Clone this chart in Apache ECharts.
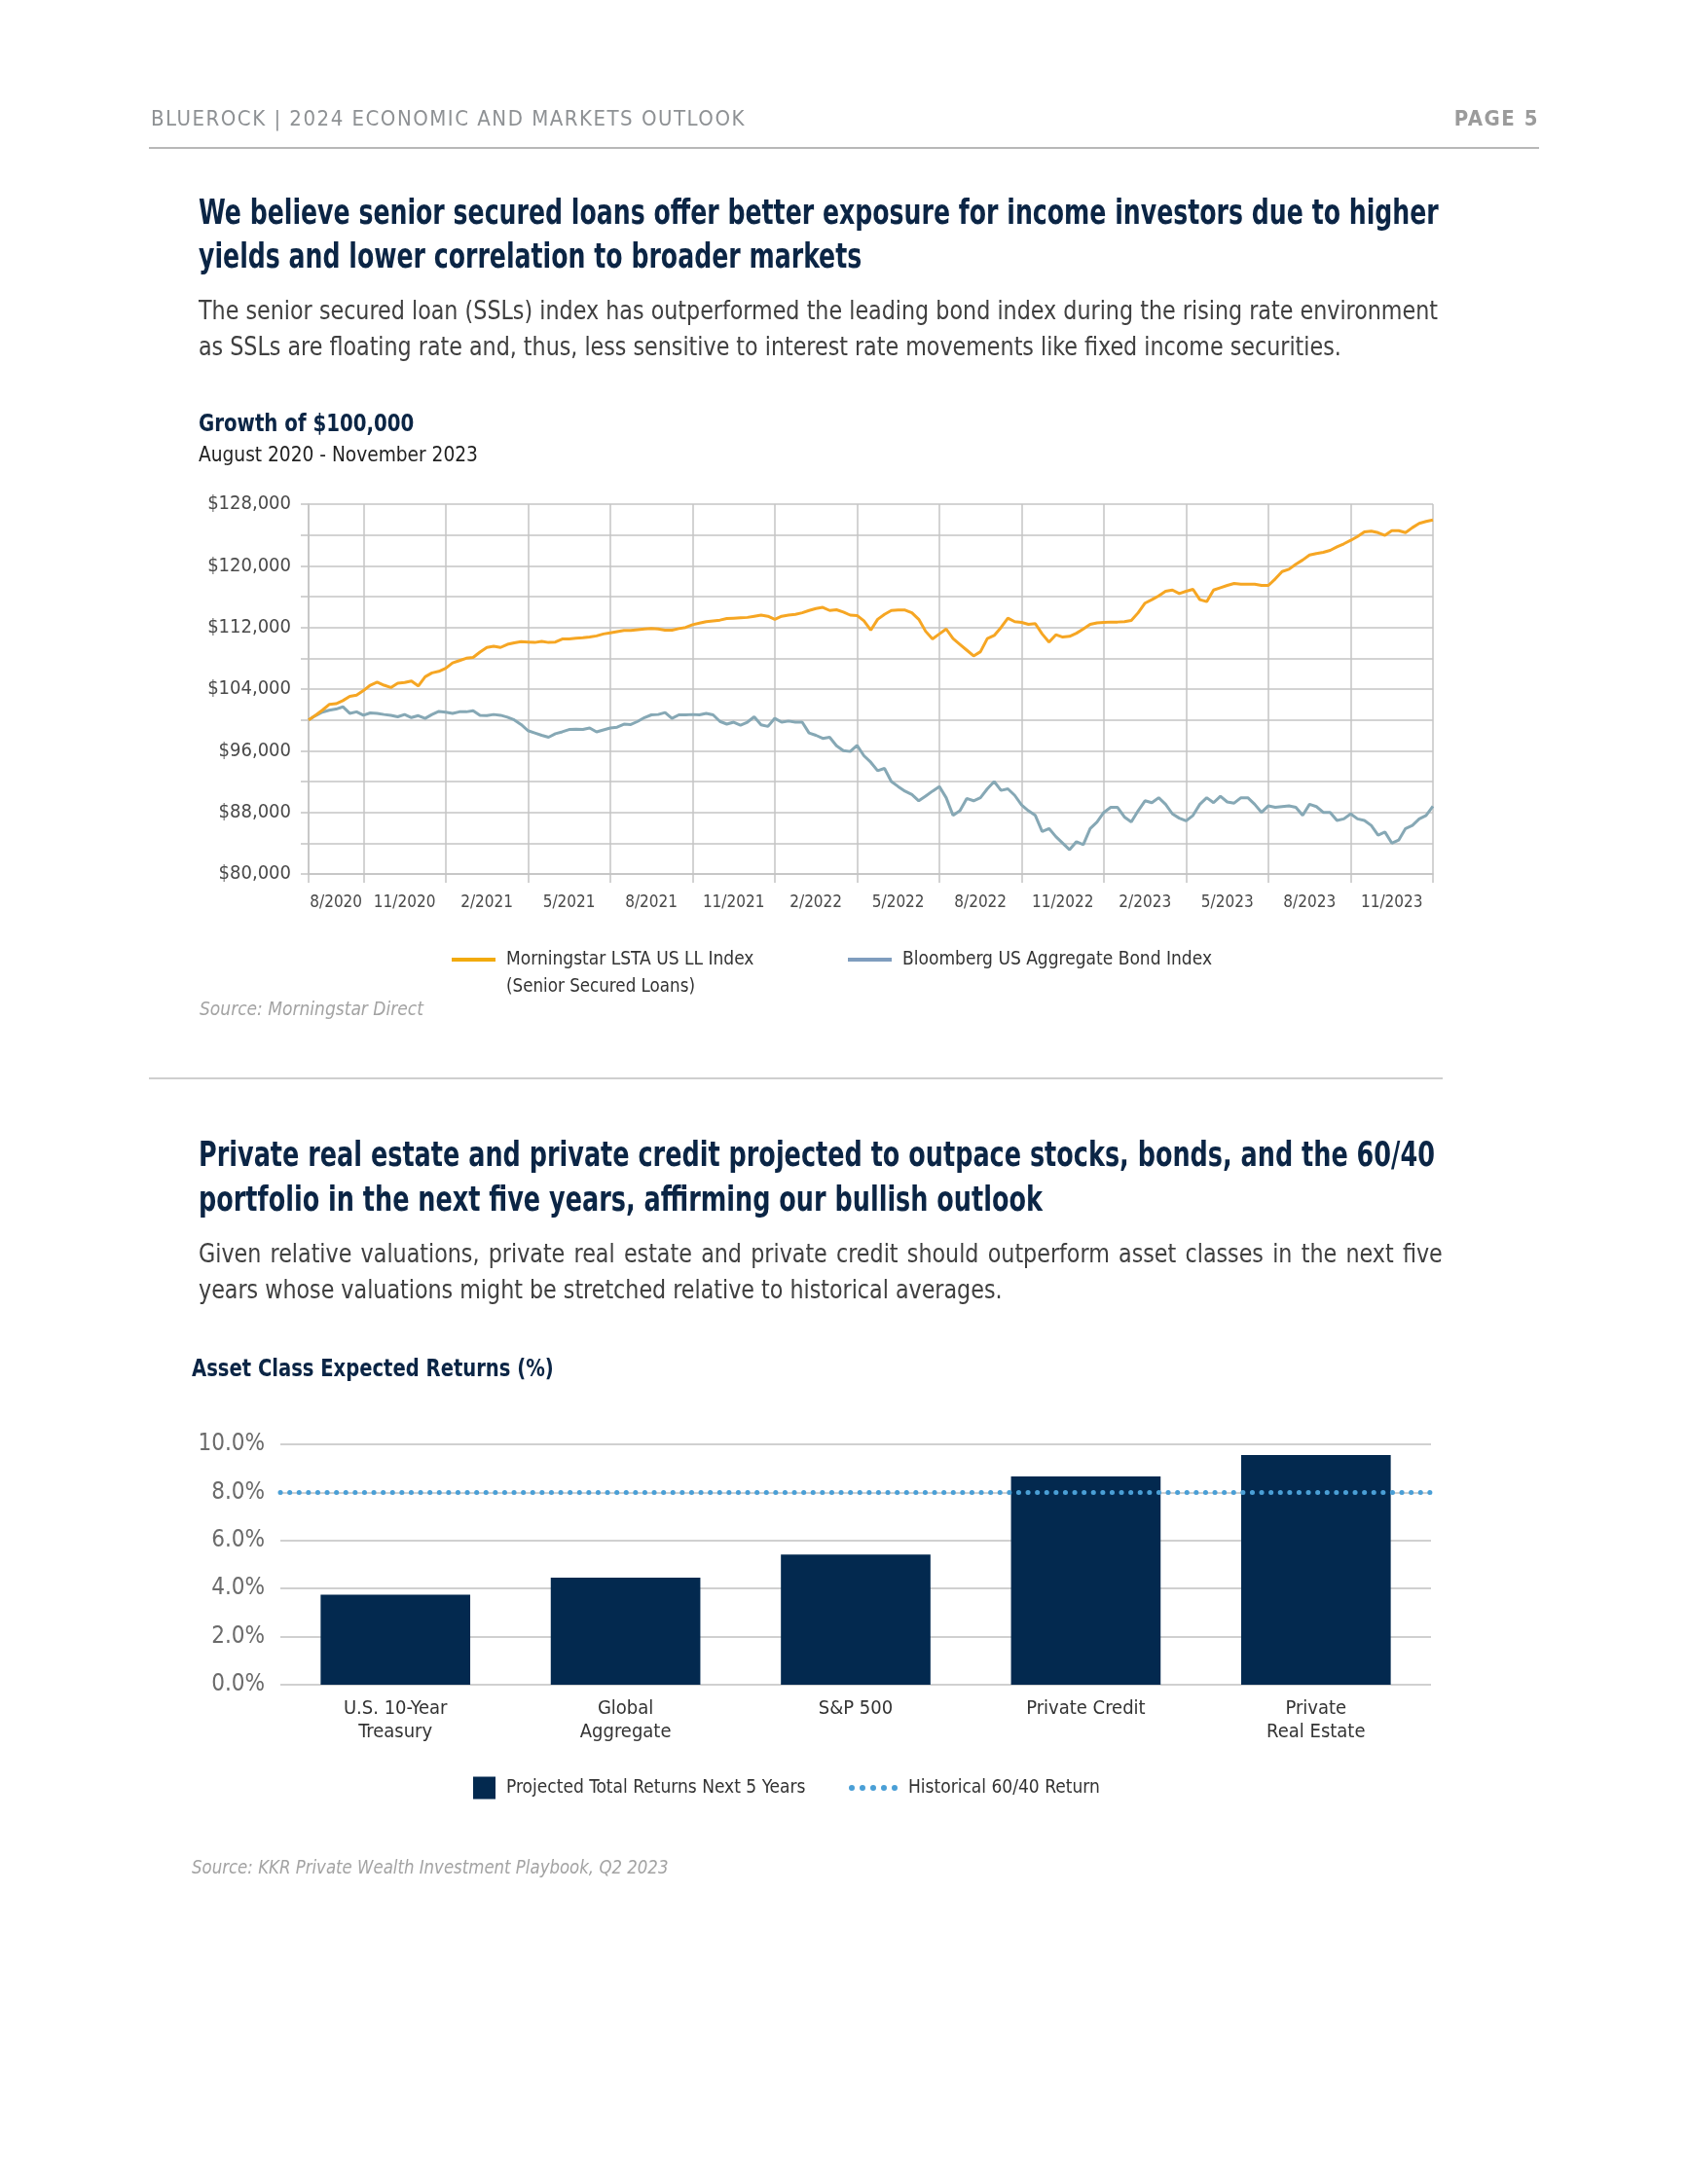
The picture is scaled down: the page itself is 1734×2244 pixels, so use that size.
<!DOCTYPE html>
<html>
<head>
<meta charset="utf-8">
<script src="https://cdn.jsdelivr.net/npm/echarts@6/dist/echarts.min.js"></script>
<style>
html,body{margin:0;padding:0;background:#fff;}
#page{position:relative;width:1734px;height:2244px;overflow:hidden;font-family:'Liberation Sans Narrow','DejaVu Sans Condensed','Roboto',sans-serif;}
#chart{position:absolute;left:0;top:0;width:1734px;height:2244px;}
.t{position:absolute;white-space:nowrap;transform-origin:0 0;}
.j{text-align:justify;text-align-last:justify;}
.rule{position:absolute;}
</style>
</head>
<body>
<div id="page">
  <div id="chart"></div>
  <div class="t" style="left:155px;top:107px;line-height:30px;font-size:22px;letter-spacing:1.5px;color:#8e9194;">BLUEROCK | 2024 ECONOMIC AND MARKETS OUTLOOK</div>
  <div class="t" style="right:153px;top:107px;line-height:30px;font-size:22px;font-weight:bold;letter-spacing:1.5px;color:#9b9b9b;">PAGE 5</div>
  <div class="rule" style="left:153px;top:151px;width:1428px;height:2px;background:#b8b8b8;"></div>

  <div class="t" style="left:204px;top:196px;line-height:45px;font-size:35px;font-weight:bold;color:#0b2545;transform:scaleX(0.80);">We believe senior secured loans offer better exposure for income investors due to higher<br>yields and lower correlation to broader markets</div>
  <div class="t j" style="left:204px;top:301px;width:1340px;line-height:37px;font-size:26px;color:#404040;transform:scaleX(0.95);">The senior secured loan (SSLs) index has outperformed the leading bond index during the rising rate environment</div>
  <div class="t" style="left:204px;top:338px;line-height:37px;font-size:26px;color:#404040;transform:scaleX(0.95);">as SSLs are floating rate and, thus, less sensitive to interest rate movements like fixed income securities.</div>

  <div class="t" style="left:204px;top:420px;line-height:30px;font-size:25px;font-weight:bold;color:#0b2545;transform:scaleX(0.88);">Growth of $100,000</div>
  <div class="t" style="left:204px;top:453px;line-height:28px;font-size:22px;color:#1f1f1f;transform:scaleX(0.94);">August 2020 - November 2023</div>
  <div class="t" style="left:520px;top:1000px;line-height:24px;font-size:20px;color:#333;transform:scaleX(0.93);">(Senior Secured Loans)</div>
  <div class="t" style="left:205px;top:1024px;line-height:24px;font-size:19px;font-style:italic;color:#a3a3a3;">Source: Morningstar Direct</div>

  <div class="rule" style="left:153px;top:1107px;width:1329px;height:2px;background:#cfcfcf;"></div>

  <div class="t" style="left:204px;top:1163px;line-height:46px;font-size:35px;font-weight:bold;color:#0b2545;transform:scaleX(0.81);">Private real estate and private credit projected to outpace stocks, bonds, and the 60/40<br>portfolio in the next five years, affirming our bullish outlook</div>
  <div class="t j" style="left:204px;top:1270px;width:1345px;line-height:37px;font-size:26px;color:#404040;transform:scaleX(0.95);">Given relative valuations, private real estate and private credit should outperform asset classes in the next five</div>
  <div class="t" style="left:204px;top:1307px;line-height:37px;font-size:26px;color:#404040;transform:scaleX(0.95);">years whose valuations might be stretched relative to historical averages.</div>

  <div class="t" style="left:197px;top:1391px;line-height:30px;font-size:25px;font-weight:bold;color:#0b2545;transform:scaleX(0.87);">Asset Class Expected Returns (%)</div>
  <div class="t" style="left:197px;top:1906px;line-height:24px;font-size:19px;font-style:italic;color:#a3a3a3;transform:scaleX(0.97);">Source: KKR Private Wealth Investment Playbook, Q2 2023</div>
</div>
<script>
// ---------- DATA ----------
const xTickLabels = ['8/2020','11/2020','2/2021','5/2021','8/2021','11/2021','2/2022','5/2022','8/2022','11/2022','2/2023','5/2023','8/2023','11/2023'];

const loanValues = [
100000,100600,101250,102000,102100,102500,103050,103200,103800,104500,
104900,104500,104200,104750,104850,105050,104400,105600,106100,106300,
106700,107400,107700,108000,108100,108800,109400,109550,109400,109800,
110000,110150,110100,110050,110200,110050,110100,110500,110500,110600,
110650,110750,110900,111150,111300,111450,111600,111600,111700,111800,
111850,111800,111650,111650,111850,112000,112350,112550,112750,112850,
112950,113150,113200,113250,113300,113450,113600,113450,113050,113450,
113600,113700,113900,114200,114450,114600,114200,114300,114000,113600,
113550,112850,111650,113050,113700,114200,114250,114250,113900,113050,
111500,110500,111150,111800,110550,109800,109050,108300,108850,110550,
110950,112000,113200,112750,112650,112400,112500,111150,110100,111050,
110750,110850,111250,111800,112400,112600,112650,112700,112700,112750,
112900,113900,115150,115600,116100,116700,116850,116400,116700,116950,
115600,115350,116850,117150,117450,117700,117600,117600,117600,117450,
117450,118300,119250,119550,120200,120750,121400,121600,121750,122000,
122450,122850,123300,123800,124400,124500,124300,123950,124550,124550,
124300,124950,125500,125750,125950
];

const aggValues = [
100000,100550,101000,101250,101400,101700,100850,101050,100600,100900,
100850,100700,100600,100400,100700,100300,100550,100200,100700,101100,
101000,100850,101050,101050,101200,100600,100550,100700,100600,100350,
100000,99400,98600,98300,98000,97750,98200,98450,98750,98800,
98750,98950,98450,98700,98950,99050,99450,99400,99800,100300,
100650,100700,100950,100200,100650,100650,100700,100650,100850,100650,
99800,99450,99700,99300,99700,100400,99350,99150,100200,99700,
99850,99700,99700,98300,98000,97600,97750,96650,96000,95900,
96700,95350,94500,93400,93700,92000,91350,90750,90300,89500,
90100,90750,91350,89900,87600,88200,89800,89500,89900,91050,
92000,90850,91050,90200,88950,88200,87600,85500,85900,84850,
84000,83150,84200,83800,85900,86750,88000,88650,88650,87400,
86750,88200,89500,89250,89900,89050,87800,87250,86900,87600,
89050,89900,89250,90100,89350,89200,89900,89900,89050,88000,
88850,88650,88750,88850,88650,87600,89050,88750,88000,88000,
86950,87150,87800,87150,86950,86300,85050,85450,84000,84400,
85900,86300,87150,87600,88800
];

const lineSeriesNames = ['Morningstar LSTA US LL Index', 'Bloomberg US Aggregate Bond Index'];

const barCategories = ['U.S. 10-Year\nTreasury', 'Global\nAggregate', 'S&P 500', 'Private Credit', 'Private\nReal Estate'];
const projectedReturns = [3.75, 4.45, 5.42, 8.66, 9.55];
const historical6040 = 8.0;
const barSeriesNames = ['Projected Total Returns Next 5 Years', 'Historical 60/40 Return'];

// ---------- CHART ----------
const FONT = "'Liberation Sans Narrow','DejaVu Sans Condensed','Roboto',sans-serif";
const periods = loanValues.map((v, i) => String(i));
const FIRST_GRID = 8, STEP = 12;
const isGrid = i => i === 0 || (i >= FIRST_GRID && (i - FIRST_GRID) % STEP === 0);
const isLabel = i => i === 4 || (i >= FIRST_GRID + STEP / 2 && (i - FIRST_GRID - STEP / 2) % STEP === 0);
const labelFor = i => i === 4 ? xTickLabels[0] : xTickLabels[(i - FIRST_GRID - STEP / 2) / STEP + 1];
const GRID_COLOR = '#c4c4c4';

const dots = 'path://M0,3a3,3 0 1,0 6,0a3,3 0 1,0 -6,0Z M11,3a3,3 0 1,0 6,0a3,3 0 1,0 -6,0Z M22,3a3,3 0 1,0 6,0a3,3 0 1,0 -6,0Z M33,3a3,3 0 1,0 6,0a3,3 0 1,0 -6,0Z M44,3a3,3 0 1,0 6,0a3,3 0 1,0 -6,0Z';

const legendText = {fontSize: 19, color: '#333', lineHeight: 24, fontFamily: FONT, padding: [0, 0, 0, 6]};

const chart = echarts.init(document.getElementById('chart'), null, {renderer: 'canvas'});
chart.setOption({
  animation: false,
  textStyle: {fontFamily: FONT},
  grid: [
    {left: 317, top: 518, width: 1155, height: 380, containLabel: false},
    {left: 288, top: 1484, width: 1182, height: 247, containLabel: false}
  ],
  legend: [
    {data: [{name: lineSeriesNames[0], icon: 'rect', itemStyle: {color: '#F2AA0C'}}], left: 464, top: 974, padding: 0, itemWidth: 45, itemHeight: 4, selectedMode: false, textStyle: legendText},
    {data: [{name: lineSeriesNames[1], icon: 'rect', itemStyle: {color: '#7F9DBE'}}], left: 871, top: 974, padding: 0, itemWidth: 45, itemHeight: 4, selectedMode: false, textStyle: legendText},
    {data: [{name: barSeriesNames[0], icon: 'rect', itemStyle: {color: '#03294F'}}], left: 486, top: 1825, padding: 0, itemWidth: 23, itemHeight: 23, selectedMode: false, textStyle: legendText},
    {data: [{name: barSeriesNames[1], icon: dots, itemStyle: {color: '#4A9FD6'}}], left: 872, top: 1825, padding: 0, itemWidth: 50, itemHeight: 6, selectedMode: false, textStyle: legendText}
  ],
  xAxis: [
    {
      gridIndex: 0, type: 'category', data: periods, boundaryGap: false,
      axisLine: {show: true, lineStyle: {color: GRID_COLOR, width: 1.5}},
      axisTick: {show: true, length: 9, interval: (i) => isGrid(i), lineStyle: {color: GRID_COLOR, width: 1.5}},
      splitLine: {show: true, interval: (i) => isGrid(i), lineStyle: {color: GRID_COLOR, width: 1.5}},
      axisLabel: {interval: (i) => isLabel(i), formatter: (v, i) => labelFor(Number(v)), color: '#4a4a4a', fontSize: 17, margin: 21, hideOverlap: false}
    },
    {
      gridIndex: 1, type: 'category', data: barCategories,
      axisLine: {show: false}, axisTick: {show: false},
      axisLabel: {color: '#333', fontSize: 20, lineHeight: 24, margin: 13, interval: 0}
    }
  ],
  yAxis: [
    {
      gridIndex: 0, type: 'value', min: 80000, max: 128000, interval: 4000,
      axisLine: {show: true, lineStyle: {color: GRID_COLOR, width: 1.5}},
      axisTick: {show: true, length: 8, lineStyle: {color: GRID_COLOR, width: 1.5}},
      splitLine: {show: true, lineStyle: {color: GRID_COLOR, width: 1.5}},
      axisLabel: {formatter: (v) => (v % 8000 === 0 ? '$' + v.toLocaleString('en-US') : ''), color: '#4a4a4a', fontSize: 20, margin: 18}
    },
    {
      gridIndex: 1, type: 'value', min: 0, max: 10, interval: 2,
      axisLine: {show: false}, axisTick: {show: false},
      splitLine: {show: true, lineStyle: {color: '#d0d0d0', width: 2}},
      axisLabel: {formatter: (v) => v.toFixed(1) + '%', color: '#6b6b6b', fontSize: 24, margin: 16}
    }
  ],
  series: [
    {name: lineSeriesNames[0], type: 'line', xAxisIndex: 0, yAxisIndex: 0, data: loanValues, showSymbol: false, symbol: 'none',
     lineStyle: {color: '#F6A623', width: 3}, itemStyle: {color: '#F6A623'}, emphasis: {disabled: true}, z: 3},
    {name: lineSeriesNames[1], type: 'line', xAxisIndex: 0, yAxisIndex: 0, data: aggValues, showSymbol: false, symbol: 'none',
     lineStyle: {color: '#86A8B5', width: 3}, itemStyle: {color: '#86A8B5'}, emphasis: {disabled: true}, z: 2},
    {name: barSeriesNames[0], type: 'bar', xAxisIndex: 1, yAxisIndex: 1, data: projectedReturns, barWidth: '65%',
     itemStyle: {color: '#03294F'}, emphasis: {disabled: true}},
    {name: barSeriesNames[1], type: 'line', xAxisIndex: 1, yAxisIndex: 1, data: [], itemStyle: {color: '#4A9FD6'},
     markLine: {silent: true, symbol: 'none', label: {show: false},
       lineStyle: {color: '#4A9FD6', width: 5, type: [0.1, 9.5], cap: 'round'},
       data: [{yAxis: historical6040}]}, z: 5}
  ]
});
</script>
</body>
</html>
